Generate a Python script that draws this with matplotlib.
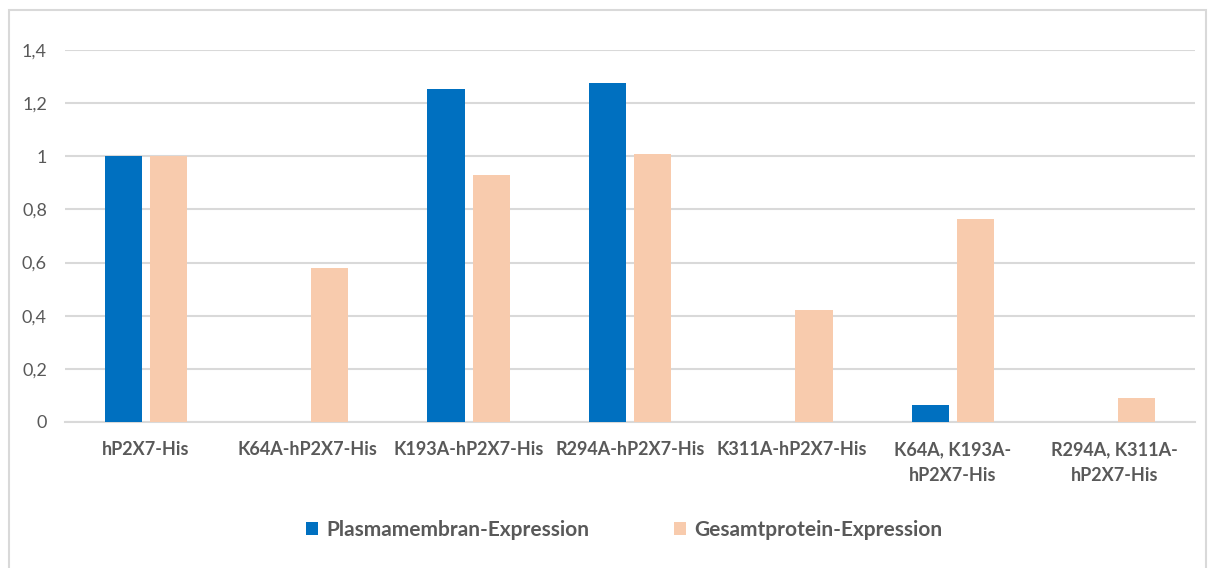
import matplotlib.pyplot as plt
import numpy as np
from matplotlib.patches import Rectangle
from matplotlib.ticker import FuncFormatter

categories = ["hP2X7-His", "K64A-hP2X7-His", "K193A-hP2X7-His", "R294A-hP2X7-His",
              "K311A-hP2X7-His", "K64A, K193A-\nhP2X7-His", "R294A, K311A-\nhP2X7-His"]
plasma = [1.0, 0.0, 1.253, 1.276, 0.0, 0.064, 0.0]
gesamt = [1.0, 0.58, 0.93, 1.009, 0.42, 0.764, 0.09]
labels = ["Plasmamembran-Expression", "Gesamtprotein-Expression"]
colors = ["#0070C0", "#F8CBAD"]

plt.rcParams['font.family'] = ['Lato', 'DejaVu Sans']

fig = plt.figure(figsize=(12.14, 5.68), dpi=100)
ax = fig.add_axes([65 / 1214, 1 - 422 / 568, 1130 / 1214, 372 / 568])

# chart frame
fig.patches.append(Rectangle((9 / 1214, -0.05), 1197 / 1214, 1 - 10 / 568 + 0.05,
                             transform=fig.transFigure, fill=False,
                             edgecolor="#D9D9D9", linewidth=1.5))

x = np.arange(len(categories))
w = 0.23
ax.bar(x - 0.14, plasma, width=w, color=colors[0], label=labels[0], zorder=3)
ax.bar(x + 0.14, gesamt, width=w, color=colors[1], label=labels[1], zorder=3)

ax.set_xlim(-0.5, len(categories) - 0.5)
ax.set_ylim(0, 1.4)
ax.set_yticks(np.arange(0, 1.41, 0.2))

def fmt(v, p):
    if abs(v - round(v)) < 1e-9:
        return str(int(round(v)))
    return f"{v:.1f}".replace(".", ",")

ax.yaxis.set_major_formatter(FuncFormatter(fmt))
ax.grid(axis="y", color="#D9D9D9", linewidth=1.5, zorder=0)
ax.set_axisbelow(True)
for s in ["top", "left", "right"]:
    ax.spines[s].set_visible(False)
ax.spines["bottom"].set_color("#D9D9D9")
ax.spines["bottom"].set_linewidth(1.5)
ax.tick_params(axis="both", length=0, colors="#595959")
ax.tick_params(axis="y", pad=13, labelsize=13)
ax.tick_params(axis="x", pad=14, labelsize=13)
ax.set_xticks(x)
ax.set_xticklabels(categories, fontweight="bold", linespacing=1.6)

leg = ax.legend(loc="center", bbox_to_anchor=(0.495, (422 - 530) / 372),
                ncol=2, frameon=False, prop={"weight": "bold", "size": 15},
                handlelength=0.55, handleheight=0.55, handletextpad=0.4, columnspacing=4.1)
for t in leg.get_texts():
    t.set_color("#595959")

plt.savefig("out.png", dpi=100)
